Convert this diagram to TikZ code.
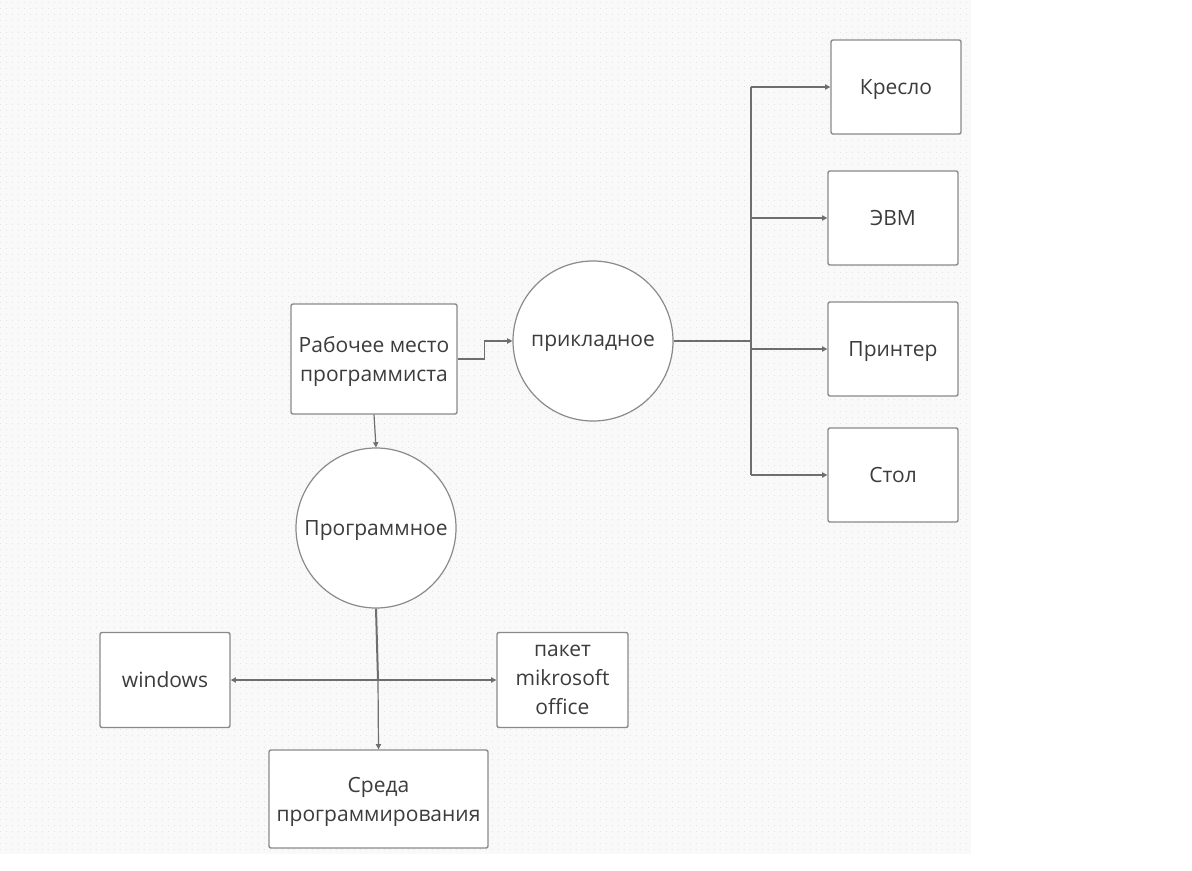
\documentclass[tikz,border=0pt]{standalone}
\usepackage{fontspec}
\setmainfont{Open Sans}
\usepackage{xcolor}
\usetikzlibrary{positioning,calc,arrows.meta}

\definecolor{gridbg}{HTML}{F9F9FA}
\definecolor{griddot}{HTML}{E4E4E8}
\definecolor{edgegray}{HTML}{8A8A8A}
\definecolor{linegray}{HTML}{6E6E6E}
\definecolor{txtgray}{HTML}{3C3C3C}

\begin{document}
\begin{tikzpicture}[x=0.5pt,y=-0.5pt,
		box/.style={draw=edgegray,line width=0.7pt,fill=white,rounded corners=1pt,
			align=center,font=\fontsize{10.5}{14.5}\selectfont,text=txtgray,inner sep=0pt,text depth=0pt},
		roundbox/.style={draw=edgegray,line width=0.6pt,fill=white,circle,minimum size=80pt,
			align=center,font=\fontsize{10.5}{14.5}\selectfont,text=txtgray,inner sep=0pt,text depth=0pt},
		conn/.style={draw=linegray,line width=0.6pt,-{Triangle[length=2.6pt,width=2.6pt]}},
		trunk/.style={draw=linegray,line width=1pt}]
		
		\useasboundingbox (0,0) rectangle (1192,871);
		\fill[gridbg] (0,0) rectangle (971,854);
		\foreach \y in {3,9,...,851}
			\draw[griddot,line width=0.5pt,dash pattern=on 0.5pt off 2.5pt] (0,\y) -- (971,\y);
		
		\node[box,minimum width=83pt,minimum height=55pt] (rab) at (374,359) {Рабочее место\\программиста};
		\node[roundbox] (prik) at (593,341) {прикладное};
		\node[roundbox] (prog) at (376,528) {Программное};
		
		\node[box,minimum width=65pt,minimum height=47pt] (kreslo) at (896,87) {Кресло};
		\node[box,minimum width=65pt,minimum height=47pt] (evm) at (893,218) {ЭВМ};
		\node[box,minimum width=65pt,minimum height=47pt] (printer) at (893,349) {Принтер};
		\node[box,minimum width=65pt,minimum height=47pt] (stol) at (893,475) {Стол};
		
		\node[box,minimum width=65pt,minimum height=47.5pt] (win) at (165,680) {windows};
		\node[box,minimum width=65.5pt,minimum height=47.5pt] (paket) at (562.5,680) {пакет\\mikrosoft\\office};
		\node[box,minimum width=109.5pt,minimum height=49pt] (sreda) at (378.5,799) {Среда\\программирования};
		
		\coordinate (tr) at (751,341);
		\coordinate (jn) at (378,680);
		
		\draw[conn] (rab.east) -- ++(27,0) |- (prik.west);
		\draw[conn] (rab.south) -- (prog.north);
		
		\draw[linegray,line width=1.4pt] (prik.east) -- (tr);
		\draw[trunk] (tr |- kreslo) -- (tr |- stol);
		\draw[conn] (tr |- kreslo) -- (kreslo.west);
		\draw[conn] (tr |- evm) -- (evm.west);
		\draw[conn] (tr |- printer) -- (printer.west);
		\draw[conn] (tr |- stol) -- (stol.west);
		
		\draw[trunk] (prog.south) -- (jn);
		\draw[conn] (jn) -- (win.east);
		\draw[conn] (jn) -- (paket.west);
		\draw[conn] (jn) -- (sreda.north);
	\end{tikzpicture}
\end{document}
